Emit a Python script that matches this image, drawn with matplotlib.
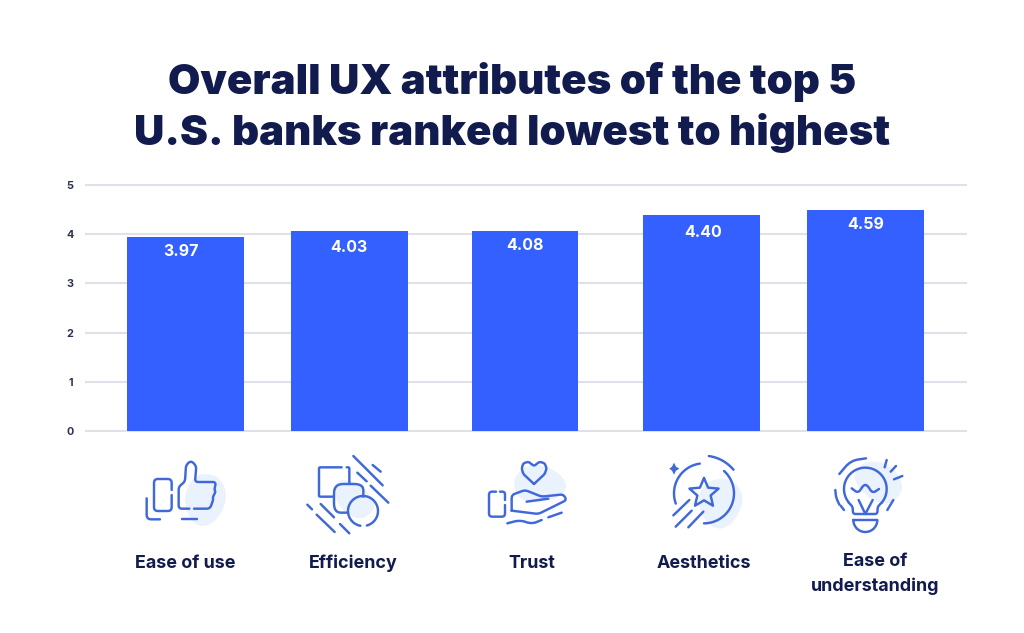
import numpy as np
import matplotlib
matplotlib.use('Agg')
import matplotlib.pyplot as plt
from matplotlib.patches import Polygon

categories = ['Ease of use', 'Efficiency', 'Trust', 'Aesthetics', 'Ease of\nunderstanding']
value_labels = ['3.97', '4.03', '4.08', '4.40', '4.59']
# drawn heights do not quite follow the printed labels in the original
bar_heights = [3.94, 4.07, 4.07, 4.39, 4.49]
y_ticks = [0, 1, 2, 3, 4, 5]

# layout, in pixels of the 1024x633 picture
bar_centers = [185.5, 349.5, 525, 701.5, 865.5]
bar_widths = [117, 117, 106, 117, 117]
label_drops = [14, 17, 15, 17, 14]
label_shifts = [-4, -1, 0, 2, 0]
label_centers = [185, 353, 532, 704, 875]

NAVY = '#111b4d'
BLUE = '#3360ff'
ICON = '#3f68d9'
BLOB = '#e9f2fd'
GRID = '#dfe1e8'
W, H = 1024, 633

plt.rcParams['font.family'] = ['Inter', 'DejaVu Sans']

fig = plt.figure(figsize=(W / 100, H / 100), dpi=100)

# chart axes
left, right, top, bottom = 86, 966, 185, 431
ax = fig.add_axes([left / W, 1 - bottom / H, (right - left) / W, (bottom - top) / H])
ax.set_xlim(left, right)
ax.set_ylim(0, 5)
ax.set_yticks(y_ticks)
ax.set_xticks([])
ax.yaxis.grid(True, color=GRID, linewidth=1.5, clip_on=False)
ax.set_axisbelow(True)
for s in ax.spines.values():
    s.set_visible(False)
ax.tick_params(axis='y', length=0, pad=9, labelsize=7.8, labelcolor='#2b3350')
for t in ax.get_yticklabels():
    t.set_fontweight('bold')
ax.patch.set_alpha(0)
ax.bar(bar_centers, bar_heights, width=bar_widths, color=BLUE, zorder=3)
for x, h, lab, d, s in zip(bar_centers, bar_heights, value_labels, label_drops, label_shifts):
    ax.annotate(lab, (x, h), xytext=(s, -d), textcoords='offset pixels', ha='center', va='center',
                color='white', fontsize=11.5, fontweight='bold', zorder=4)

# overlay for title, labels and icons, in picture pixels
ov = fig.add_axes([0, 0, 1, 1])
ov.set_xlim(0, W)
ov.set_ylim(H, 0)
ov.axis('off')
ov.patch.set_alpha(0)

ov.text(512, 82, 'Overall UX attributes of the top 5', ha='center', va='center',
        fontsize=30.2, fontweight='black', color=NAVY)
ov.text(512, 133, 'U.S. banks ranked lowest to highest', ha='center', va='center',
        fontsize=30.2, fontweight='black', color=NAVY)

for x, lab in zip(label_centers, categories):
    if '\n' in lab:
        ov.text(x, 574, lab, ha='center', va='center', fontsize=12.9, fontweight='bold',
                color=NAVY, linespacing=1.5)
    else:
        ov.text(x, 568, lab, ha='center', va='baseline', fontsize=12.9, fontweight='bold', color=NAVY)


def chaikin(pts, closed=False, n=3):
    pts = np.array(pts, dtype=float)
    for _ in range(n):
        a = pts
        b = np.roll(pts, -1, axis=0)
        if not closed:
            a, b = a[:-1], b[:-1]
        q = 0.75 * a + 0.25 * b
        r = 0.25 * a + 0.75 * b
        new = np.empty((2 * len(q), 2))
        new[0::2] = q
        new[1::2] = r
        if not closed:
            new = np.vstack([pts[0], new, pts[-1]])
        pts = new
    return pts


def rounded(pts, r):
    # polyline with corners cut to a fixed radius
    pts = np.array(pts, dtype=float)
    out = [pts[0]]
    for a, b, c in zip(pts[:-2], pts[1:-1], pts[2:]):
        d0 = min(r, np.linalg.norm(a - b) / 2)
        d1 = min(r, np.linalg.norm(c - b) / 2)
        p0 = b + (a - b) / np.linalg.norm(a - b) * d0
        p1 = b + (c - b) / np.linalg.norm(c - b) * d1
        for t in np.linspace(0, 1, 8):
            out.append((1 - t) ** 2 * p0 + 2 * t * (1 - t) * b + t ** 2 * p1)
    out.append(pts[-1])
    return np.array(out)


# icon strokes are given in the 3x crop coordinates of each icon
def to_px(pts, off):
    return np.array(pts, dtype=float) / 3 + np.array(off)


def stroke(pts, off, smooth=0, closed=False, r=0):
    pts = np.array(pts, dtype=float)
    if r:
        p = rounded(pts, r)
    elif smooth:
        p = chaikin(pts, closed, smooth)
    else:
        p = pts
    if closed:
        p = np.vstack([p, p[0]])
    p = to_px(p, off)
    ov.plot(p[:, 0], p[:, 1], color=ICON, lw=1.75, solid_capstyle='round', solid_joinstyle='round', zorder=5)


def blob(pts, off):
    ov.add_patch(Polygon(to_px(chaikin(pts, True, 4), off), closed=True, fc=BLOB, ec='none', zorder=1))


def arc(cx, cy, r, a0, a1, off):
    t = np.radians(np.linspace(a0, a1, 60))
    stroke(np.c_[cx + r * np.cos(t), cy + r * np.sin(t)], off)


# thumb
o = (120, 440)
blob([(225, 100), (295, 105), (325, 165), (295, 240), (240, 265), (205, 230), (190, 170)], o)
stroke([(155, 150), (155, 117), (102, 117), (102, 213), (155, 213), (155, 165)], o, r=12)
stroke([(80, 175), (80, 238), (120, 238)], o, r=14)
stroke([(208, 206), (176, 206), (176, 140), (195, 125), (198, 75), (213, 62), (229, 78), (225, 126), (288, 126),
        (283, 150), (287, 155), (278, 172), (280, 178), (270, 206), (222, 206)], o, r=10)
stroke([(187, 238), (230, 238)], o)

# efficiency
blob([(650, 115), (720, 130), (775, 195), (730, 240), (680, 225), (640, 170)], o)
stroke([(640, 170), (597, 170), (597, 82), (665, 82)], o, r=4)
stroke([(680, 82), (688, 82), (688, 130)], o, r=4)
stroke([(684, 218), (642, 218), (642, 132), (730, 132), (730, 170)], o, r=28)
arc(729, 213, 45, 100, 375 + 60, o)
for seg in [[(700, 48), (788, 136)], [(758, 75), (782, 95)], [(712, 98), (740, 124)], [(752, 137), (805, 188)],
            [(562, 194), (576, 208)], [(602, 192), (642, 232)], [(590, 224), (644, 276)], [(660, 252), (688, 280)]]:
    stroke(seg, o)

# hand and heart
o = (470, 440)
blob([(185, 70), (250, 85), (295, 130), (275, 170), (200, 190), (150, 180), (128, 130), (145, 95)], o)
stroke([(192, 132), (160, 102), (155, 85), (160, 70), (175, 65), (192, 78), (209, 65), (224, 70), (230, 85),
        (224, 102), (192, 132)], o, r=6)
stroke([(78, 155), (57, 155), (57, 230), (105, 230), (105, 195)], o, r=10)
stroke([(105, 180), (105, 155), (90, 155)], o, r=10)
stroke([(125, 212), (125, 165), (165, 150), (215, 170), (280, 163), (290, 180), (205, 222), (125, 212)], o, r=10)
stroke([(170, 185), (235, 176)], o)
stroke([(112, 250), (150, 240), (185, 252), (215, 240)], o, smooth=2)
stroke([(235, 232), (275, 218)], o)

# star
blob([(720, 115), (795, 120), (825, 180), (790, 250), (745, 272), (700, 240), (680, 170)], o)
arc(702, 160, 90, 262, 160, o)
arc(702, 160, 90, -48, 90, o)
arc(700, 165, 118, -82, -40, o)
star_t = np.radians(np.arange(0, 360, 36) - 90)
star_r = np.where(np.arange(10) % 2 == 0, 46, 21)
stroke(np.c_[702 + star_r * np.cos(star_t), 160 + star_r * np.sin(star_t)], o, closed=True)
ov.add_patch(Polygon(to_px([(612, 68), (618, 80), (628, 86), (618, 92), (612, 104), (606, 92), (598, 86), (606, 80)], o),
                     closed=True, fc=ICON, ec='none', zorder=5))
for seg in [[(610, 226), (658, 180)], [(617, 260), (665, 212)], [(655, 262), (700, 215)]]:
    stroke(seg, o)

# bulb
o = (780, 440)
blob([(270, 60), (335, 75), (375, 140), (340, 190), (285, 190), (222, 130), (228, 85)], o)
arc(256, 147, 64, 140, 400, o)
stroke([(206, 188), (218, 200), (219, 222), (292, 222), (293, 200), (305, 188)], o, r=8)
base_t = np.radians(np.linspace(0, 180, 30))
stroke(np.vstack([[(220, 240), (292, 240)], np.c_[256 + 36 * np.cos(base_t), 240 + 36 * np.sin(base_t)]]), o)
stroke([(215, 145), (235, 160), (250, 135), (262, 135), (277, 160), (297, 147)], o, smooth=2)
stroke([(236, 180), (256, 222), (278, 180)], o)
for seg in [[(320, 60), (314, 82)], [(348, 78), (332, 95)], [(367, 108), (342, 118)], [(340, 180), (322, 210)],
            [(182, 197), (192, 210)]]:
    stroke(seg, o)
stroke([(258, 55), (212, 62), (178, 102)], o, smooth=2)
stroke([(166, 150), (168, 172), (178, 194)], o, smooth=2)

fig.savefig('out.png', dpi=100, facecolor='white')
plt.close(fig)
